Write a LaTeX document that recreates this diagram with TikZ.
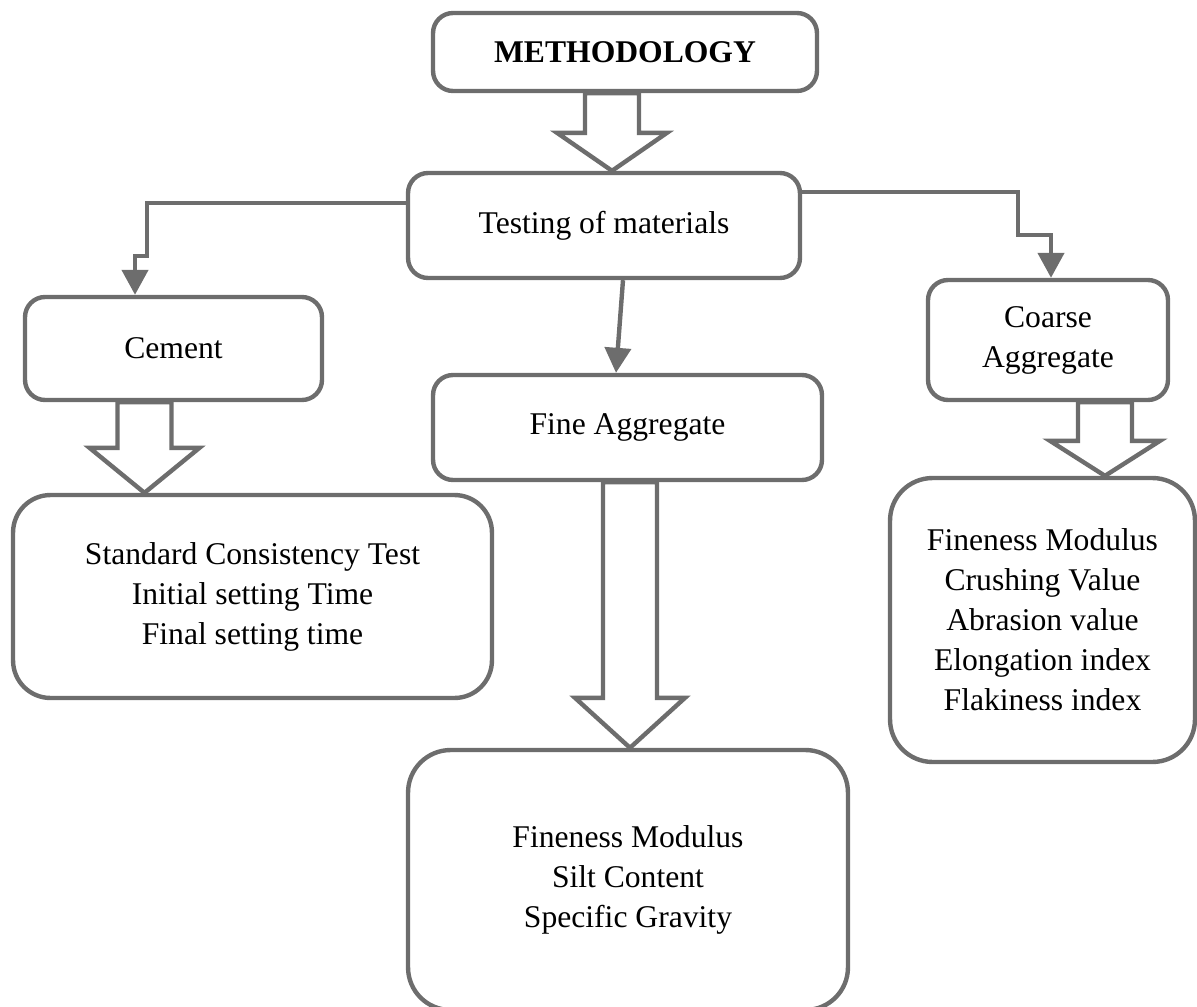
\documentclass[tikz,border=0pt]{standalone}
\usepackage{fontspec}
\setmainfont{Liberation Serif}
\usetikzlibrary{arrows.meta,calc}
\definecolor{boxgray}{HTML}{6D6D6D}

% hollow block arrow: start, tip, head length
\newcommand{\hollowarrow}[3]{%
  \draw[blockarrow] let \p1=(#1), \p2=(#2) in
    (\x1-0.54cm,\y1) -- (\x1-0.54cm,\y2+#3) -- (\x1-1.1cm,\y2+#3) -- (\x1,\y2)
    -- (\x1+1.1cm,\y2+#3) -- (\x1+0.54cm,\y2+#3) -- (\x1+0.54cm,\y1) -- cycle;}

\begin{document}
\begin{tikzpicture}[x=0.02cm,y=-0.02cm,
  box/.style={draw=boxgray,line width=2.5pt,rounded corners=0.4cm,fill=white,
    align=center,inner sep=0pt,font=\fontsize{18}{22.8}\selectfont},
  bigbox/.style={box,rounded corners=0.85cm},
  link/.style={draw=boxgray,line width=2.5pt,-{Triangle[length=0.5cm,width=0.52cm]}},
  blockarrow/.style={draw=boxgray,line width=2.5pt,fill=white,line join=miter}]
\useasboundingbox (0,0) rectangle (1197,1007);

% boxes
\node[box,minimum width=7.68cm,minimum height=1.56cm] (meth) at (625,52) {\textbf{METHODOLOGY}};
\node[box,minimum width=7.84cm,minimum height=2.1cm] (test) at (604,225.5) {Testing of materials};
\node[box,minimum width=5.94cm,minimum height=2.06cm] (cem) at (173.5,348.5) {Cement};
\node[box,minimum width=7.78cm,minimum height=2.1cm] (fine) at (627.5,427.5) {Fine Aggregate};
\node[box,minimum width=4.8cm,minimum height=2.4cm] (coarse) at (1048,340) {Coarse\\Aggregate};
\node[bigbox,rounded corners=0.75cm,minimum width=9.58cm,minimum height=4.06cm] (cemt) at (252.5,596.5)
  {Standard Consistency Test\\Initial setting Time\\Final setting time};
\node[bigbox,minimum width=8.8cm,minimum height=5.2cm] (finet) at (628,880)
  {Fineness Modulus\\Silt Content\\Specific Gravity};
\node[bigbox,minimum width=6.1cm,minimum height=5.68cm] (coarset) at (1042.5,620)
  {Fineness Modulus\\Crushing Value\\Abrasion value\\Elongation index\\Flakiness index};

% elbow links
\coordinate (lknee) at (147,256);
\coordinate (rknee) at (1018,235);
\draw[link] ([yshift=0.45cm]test.west) -| (lknee) -| ([xshift=-0.77cm]cem.north);
\draw[link] ([yshift=0.67cm]test.east) -| (rknee) -| ([xshift=0.06cm]coarse.north);
\draw[link] ([xshift=0.38cm]test.south) -- ([xshift=-0.23cm]fine.north);

% block arrows
\hollowarrow{[xshift=-0.26cm]meth.south}{test.north}{0.76cm}
\hollowarrow{[xshift=-0.58cm]cem.south}{cemt.north}{0.9cm}
\hollowarrow{[xshift=0.05cm]fine.south}{finet.north}{1.0cm}
\hollowarrow{[xshift=1.14cm]coarse.south}{coarset.north}{0.7cm}
\end{tikzpicture}
\end{document}
